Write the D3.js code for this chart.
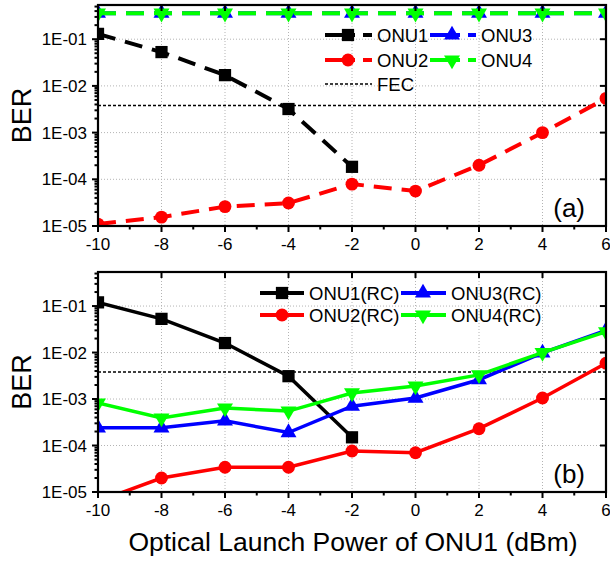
<!DOCTYPE html>
<html>
<head>
<meta charset="utf-8">
<script src="https://cdn.jsdelivr.net/npm/d3@7"></script>
<style>
  body { margin: 0; background: #fff; }
  svg { display: block; font-family: "Liberation Sans", Arial, sans-serif; }
</style>
</head>
<body>
<div id="chart"></div>
<script>
// x values (dBm)
const power = [-10, -8, -6, -4, -2, 0, 2, 4, 6];
const xTicks = [-10, -8, -6, -4, -2, 0, 2, 4, 6];
const yTicks = [1e-5, 1e-4, 1e-3, 1e-2, 1e-1];
const fecLevel = 3.8e-3;

// panel (a)
const onu1 = [1.3e-1, 5.3e-2, 1.7e-2, 3.2e-3, 1.85e-4];
const onu2 = [1.1e-5, 1.55e-5, 2.6e-5, 3.1e-5, 7.9e-5, 5.6e-5, 2.0e-4, 1.0e-3, 5.4e-3];
const onu3 = [0.36, 0.36, 0.36, 0.36, 0.36, 0.36, 0.36, 0.36, 0.36];
const onu4 = [0.36, 0.36, 0.36, 0.36, 0.36, 0.36, 0.36, 0.36, 0.36];

// panel (b)
const onu1RC = [1.2e-1, 5.3e-2, 1.6e-2, 3.1e-3, 1.5e-4];
const onu2RC = [6.3e-6, 2.0e-5, 3.4e-5, 3.4e-5, 7.6e-5, 7.0e-5, 2.3e-4, 1.05e-3, 5.9e-3];
const onu3RC = [2.4e-4, 2.4e-4, 3.4e-4, 1.9e-4, 7.0e-4, 1.05e-3, 2.6e-3, 9.8e-3, 3.0e-2];
const onu4RC = [8.2e-4, 3.9e-4, 6.4e-4, 5.5e-4, 1.35e-3, 1.9e-3, 3.3e-3, 1.0e-2, 2.8e-2];

const width = 610, height = 561;
const left = 98, right = 606;

const svg = d3.select("#chart").append("svg")
    .attr("width", width)
    .attr("height", height);

const x = d3.scaleLinear().domain([-10, 6]).range([left, right]);

const colors = {black: "#000000", red: "#ff0000", blue: "#0000ff", green: "#00ff00"};

const symbols = {
    square: d3.symbol().type(d3.symbolSquare).size(150),
    circle: d3.symbol().type(d3.symbolCircle).size(130),
    triUp: d3.symbol().type(d3.symbolTriangle).size(110),
};

function marker(sel, shape) {
    if (shape === "triDown") {
        sel.attr("d", symbols.triUp()).attr("transform", function() {
            return d3.select(this).attr("transform") + " rotate(180)";
        });
    } else {
        sel.attr("d", symbols[shape]());
    }
}

function drawPanel(cfg) {
    const y = d3.scaleLog().domain([1e-5, 0.54]).range([cfg.bottom, cfg.top]);
    const g = svg.append("g");
    const clipId = "clip" + cfg.id;

    g.append("clipPath").attr("id", clipId)
        .append("rect")
        .attr("x", left).attr("y", cfg.top)
        .attr("width", right - left).attr("height", cfg.bottom - cfg.top);

    // grid
    g.append("g")
        .selectAll("line")
        .data(xTicks.slice(1, -1))
        .join("line")
        .attr("x1", d => x(d)).attr("x2", d => x(d))
        .attr("y1", cfg.top).attr("y2", cfg.bottom)
        .attr("stroke", "#b4b4b4").attr("stroke-width", 1).attr("stroke-dasharray", "1,2");
    g.append("g")
        .selectAll("line")
        .data(yTicks.slice(1))
        .join("line")
        .attr("x1", left).attr("x2", right)
        .attr("y1", d => y(d)).attr("y2", d => y(d))
        .attr("stroke", "#b4b4b4").attr("stroke-width", 1).attr("stroke-dasharray", "1,2");

    // FEC
    g.append("line")
        .attr("x1", left).attr("x2", right)
        .attr("y1", y(fecLevel)).attr("y2", y(fecLevel))
        .attr("stroke", "#000").attr("stroke-width", 1.5).attr("stroke-dasharray", "3,2");

    const plot = g.append("g").attr("clip-path", `url(#${clipId})`);
    const line = d3.line().x(d => x(d[0])).y(d => y(d[1]));

    cfg.series.forEach(s => {
        const pts = s.values.map((v, i) => [power[i], v]);
        plot.append("path")
            .attr("d", line(pts))
            .attr("fill", "none")
            .attr("stroke", s.color)
            .attr("stroke-width", cfg.dashed ? 4 : 3.5)
            .attr("stroke-dasharray", cfg.dashed ? "18,10" : null);
        plot.append("g")
            .selectAll("path")
            .data(pts)
            .join("path")
            .attr("transform", d => `translate(${x(d[0])},${y(d[1])})`)
            .attr("fill", s.color)
            .call(marker, s.shape);
    });

    // frame
    g.append("rect")
        .attr("x", left).attr("y", cfg.top)
        .attr("width", right - left).attr("height", cfg.bottom - cfg.top)
        .attr("fill", "none").attr("stroke", "#000").attr("stroke-width", 2.2);

    // ticks
    const minorX = d3.range(-9, 6, 2);
    const minorY = [];
    [1e-5, 1e-4, 1e-3, 1e-2, 1e-1].forEach(d => {
        for (let k = 2; k <= 9; k++) if (d * k <= 0.54) minorY.push(d * k);
    });
    const tk = g.append("g").attr("stroke", "#000").attr("stroke-width", 2);
    // bottom (out), top (in)
    tk.selectAll(".xb").data(xTicks).join("line").attr("class", "xb")
        .attr("x1", d => x(d)).attr("x2", d => x(d))
        .attr("y1", cfg.bottom).attr("y2", cfg.bottom + 6);
    tk.selectAll(".xbm").data(minorX).join("line").attr("class", "xbm")
        .attr("x1", d => x(d)).attr("x2", d => x(d))
        .attr("y1", cfg.bottom).attr("y2", cfg.bottom + 3.5);
    tk.selectAll(".xt").data(xTicks).join("line").attr("class", "xt")
        .attr("x1", d => x(d)).attr("x2", d => x(d))
        .attr("y1", cfg.top).attr("y2", cfg.top + 6);
    // left (out), right (in)
    tk.selectAll(".yl").data(yTicks).join("line").attr("class", "yl")
        .attr("x1", left - 6).attr("x2", left)
        .attr("y1", d => y(d)).attr("y2", d => y(d));
    tk.selectAll(".ylm").data(minorY).join("line").attr("class", "ylm")
        .attr("x1", left - 3.5).attr("x2", left)
        .attr("y1", d => y(d)).attr("y2", d => y(d));
    tk.selectAll(".yr").data(yTicks).join("line").attr("class", "yr")
        .attr("x1", right - 6).attr("x2", right)
        .attr("y1", d => y(d)).attr("y2", d => y(d));

    // tick labels
    g.append("g").attr("font-size", 17).attr("text-anchor", "middle")
        .selectAll("text").data(xTicks).join("text")
        .attr("x", d => x(d)).attr("y", cfg.bottom + 24)
        .text(d => d);
    g.append("g").attr("font-size", 17).attr("text-anchor", "end")
        .selectAll("text").data(yTicks).join("text")
        .attr("x", left - 11).attr("y", d => y(d) + 6)
        .text(d => "1E-" + String(Math.round(-Math.log10(d))).padStart(2, "0"));

    // axis title
    const cy = (cfg.top + cfg.bottom) / 2;
    g.append("text")
        .attr("transform", `translate(31,${cy}) rotate(-90)`)
        .attr("text-anchor", "middle")
        .attr("font-size", 27)
        .text("BER");

    // panel label
    g.append("text")
        .attr("x", 585).attr("y", cfg.bottom - 9)
        .attr("text-anchor", "end")
        .attr("font-size", 26)
        .text(cfg.label);

    // legend
    const lg = g.append("g");
    cfg.legend.forEach(item => {
        const [x0, x1] = item.span;
        lg.append("line")
            .attr("x1", x0).attr("x2", x1)
            .attr("y1", item.y).attr("y2", item.y)
            .attr("stroke", item.color)
            .attr("stroke-width", item.shape ? 4 : 1.5)
            .attr("stroke-dasharray", item.dash);
        if (item.shape) {
            lg.append("path")
                .attr("transform", `translate(${item.mx},${item.y})`)
                .attr("fill", item.color)
                .call(marker, item.shape);
        }
        lg.append("text")
            .attr("x", x1 + 5).attr("y", item.y + 6.5)
            .attr("font-size", 18.5)
            .text(item.name);
    });
}

const dashA = "30,8,12,100";
drawPanel({
    id: "a", top: 5, bottom: 226, label: "(a)", dashed: true,
    series: [
        {values: onu1, color: colors.black, shape: "square"},
        {values: onu2, color: colors.red, shape: "circle"},
        {values: onu3, color: colors.blue, shape: "triUp"},
        {values: onu4, color: colors.green, shape: "triDown"},
    ],
    legend: [
        {name: "ONU1", color: colors.black, shape: "square", span: [325, 372], mx: 348, y: 35, dash: dashA},
        {name: "ONU3", color: colors.blue, shape: "triUp", span: [430, 476], mx: 452, y: 35, dash: dashA},
        {name: "ONU2", color: colors.red, shape: "circle", span: [325, 372], mx: 348, y: 60, dash: dashA},
        {name: "ONU4", color: colors.green, shape: "triDown", span: [430, 476], mx: 452, y: 60, dash: dashA},
        {name: "FEC", color: "#000", shape: null, span: [325, 372], y: 84, dash: "3,2"},
    ],
});

drawPanel({
    id: "b", top: 272, bottom: 492, label: "(b)", dashed: false,
    series: [
        {values: onu1RC, color: colors.black, shape: "square"},
        {values: onu2RC, color: colors.red, shape: "circle"},
        {values: onu3RC, color: colors.blue, shape: "triUp"},
        {values: onu4RC, color: colors.green, shape: "triDown"},
    ],
    legend: [
        {name: "ONU1(RC)", color: colors.black, shape: "square", span: [260, 304], mx: 282, y: 293, dash: null},
        {name: "ONU3(RC)", color: colors.blue, shape: "triUp", span: [401, 446], mx: 423, y: 293, dash: null},
        {name: "ONU2(RC)", color: colors.red, shape: "circle", span: [260, 304], mx: 282, y: 315, dash: null},
        {name: "ONU4(RC)", color: colors.green, shape: "triDown", span: [401, 446], mx: 423, y: 315, dash: null},
    ],
});

svg.append("text")
    .attr("x", 353).attr("y", 551)
    .attr("text-anchor", "middle")
    .attr("font-size", 26.5)
    .text("Optical Launch Power of ONU1 (dBm)");
</script>
</body>
</html>
